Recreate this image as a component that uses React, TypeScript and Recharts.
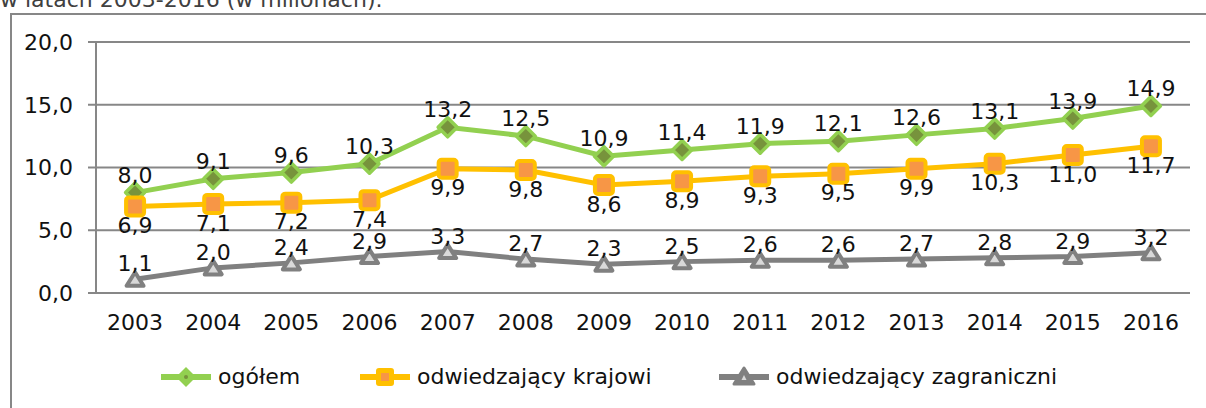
import React from "react"
import {
  LineChart,
  Line,
  XAxis,
  YAxis,
  CartesianGrid,
  LabelList,
  Legend,
} from "recharts"

const years = ["2003", "2004", "2005", "2006", "2007", "2008", "2009", "2010", "2011", "2012", "2013", "2014", "2015", "2016"]
const ogolem = [8.0, 9.1, 9.6, 10.3, 13.2, 12.5, 10.9, 11.4, 11.9, 12.1, 12.6, 13.1, 13.9, 14.9]
const krajowi = [6.9, 7.1, 7.2, 7.4, 9.9, 9.8, 8.6, 8.9, 9.3, 9.5, 9.9, 10.3, 11.0, 11.7]
const zagraniczni = [1.1, 2.0, 2.4, 2.9, 3.3, 2.7, 2.3, 2.5, 2.6, 2.6, 2.7, 2.8, 2.9, 3.2]
const yTicks = [0, 5, 10, 15, 20]
const boundaryTicks = [0, 1, 2, 3, 4, 5, 6, 7, 8, 9, 10, 11, 12, 13, 14]
const seriesOrder = ["ogolem", "krajowi", "zagraniczni"]

const data = years.map((year, i) => ({
  idx: i,
  year,
  ogolem: ogolem[i],
  krajowi: krajowi[i],
  zagraniczni: zagraniczni[i],
}))

const FONT = '"DejaVu Sans", sans-serif'
const FS = 22
const AXIS = "#878787"
const GREEN = "#92D050"
const GREEN_DARK = "#77933C"
const YELLOW = "#FFC000"
const ORANGE = "#F79646"
const GREY = "#808080"
const GREY_LIGHT = "#D9D9D9"

const fmt = (v: any) => Number(v).toFixed(1).replace(".", ",")

function Diamond({ cx, cy }: any) {
  if (cx == null || cy == null) return null
  const r = 9.5
  return (
    <polygon
      points={`${cx},${cy - r} ${cx + r},${cy} ${cx},${cy + r} ${cx - r},${cy}`}
      fill={GREEN_DARK}
      stroke={GREEN}
      strokeWidth={3.5}
      strokeLinejoin="round"
    />
  )
}

function Square({ cx, cy }: any) {
  if (cx == null || cy == null) return null
  return (
    <rect x={cx - 9} y={cy - 9} width={18} height={18} rx={3} fill={ORANGE} stroke={YELLOW} strokeWidth={4} />
  )
}

function Triangle({ cx, cy }: any) {
  if (cx == null || cy == null) return null
  return (
    <polygon
      points={`${cx},${cy - 7} ${cx + 8.5},${cy + 6.5} ${cx - 8.5},${cy + 6.5}`}
      fill={GREY_LIGHT}
      stroke={GREY}
      strokeWidth={4}
      strokeLinejoin="round"
    />
  )
}

function LegendIcon({ kind }: { kind: string }) {
  return (
    <svg width={50} height={24}>
      <line x1={0} y1={12} x2={50} y2={12} stroke={kind === "ogolem" ? GREEN : kind === "krajowi" ? YELLOW : GREY} strokeWidth={6} />
      {kind === "ogolem" && (
        <>
          <polygon points="25,2 35,12 25,22 15,12" fill={GREEN} />
          <circle cx={25} cy={12} r={2} fill={GREEN_DARK} />
        </>
      )}
      {kind === "krajowi" && (
        <>
          <rect x={16} y={3} width={18} height={18} rx={3} fill={YELLOW} />
          <rect x={21} y={8} width={8} height={8} fill={ORANGE} />
        </>
      )}
      {kind === "zagraniczni" && (
        <>
          <polygon points="25,3 35,19 15,19" fill={GREY} stroke={GREY} strokeWidth={3} strokeLinejoin="round" />
          <polygon points="25,10 27.5,15 22.5,15" fill={GREY_LIGHT} />
        </>
      )}
    </svg>
  )
}

const legendLeft: Record<string, number> = { ogolem: 161, krajowi: 360, zagraniczni: 719 }

function LegendContent({ payload }: any) {
  const items = [...(payload || [])].sort(
    (a: any, b: any) => seriesOrder.indexOf(a.dataKey) - seriesOrder.indexOf(b.dataKey)
  )
  return (
    <div style={{ position: "relative", height: 28, fontFamily: FONT, fontSize: FS, color: "#111" }}>
      {items.map((p: any) => (
        <div
          key={p.dataKey}
          style={{ position: "absolute", left: legendLeft[p.dataKey], top: 0, display: "flex", alignItems: "center", gap: 7, whiteSpace: "nowrap" }}
        >
          <LegendIcon kind={p.dataKey} />
          <span>{p.value}</span>
        </div>
      ))}
    </div>
  )
}

export default function App() {
  return (
    <div style={{ position: "absolute", left: 0, top: 0, width: 1206, height: 408, overflow: "hidden", background: "#fff" }}>
      <div
        style={{ position: "absolute", left: 0, top: -12, fontFamily: FONT, fontSize: FS, lineHeight: "24px", color: "#404040", whiteSpace: "nowrap" }}
      >
        w latach 2003-2016 (w milionach).
      </div>
      <div
        style={{ position: "absolute", left: 10, top: 13, width: 1300, height: 500, border: `2px solid ${AXIS}`, boxSizing: "border-box" }}
      />
      <div style={{ position: "absolute", left: 0, top: 0 }}>
        <LineChart width={1206} height={408} data={data} margin={{ top: 42, right: 16, left: 0, bottom: 75 }}>
          <CartesianGrid xAxisId="cat" vertical={false} stroke={AXIS} strokeWidth={2} />
          <XAxis
            xAxisId="grid"
            dataKey="idx"
            type="number"
            domain={[0, 14]}
            ticks={boundaryTicks}
            allowDataOverflow
            height={0}
            tick={false}
            tickSize={7}
            tickLine={{ stroke: AXIS, strokeWidth: 2 }}
            axisLine={{ stroke: AXIS, strokeWidth: 2 }}
          />
          <XAxis
            xAxisId="cat"
            dataKey="year"
            scale="band"
            height={40}
            axisLine={false}
            tickLine={false}
            tickSize={0}
            tickMargin={21}
            interval={0}
            tick={{ fill: "#111", fontSize: FS, fontFamily: FONT }}
          />
          <YAxis
            domain={[0, 20]}
            ticks={yTicks}
            width={96}
            tickFormatter={fmt}
            tickSize={8}
            tickMargin={15}
            tickLine={{ stroke: AXIS, strokeWidth: 2 }}
            axisLine={{ stroke: AXIS, strokeWidth: 2 }}
            tick={{ fill: "#111", fontSize: FS, fontFamily: FONT }}
          />
          <Legend
            layout="horizontal"
            verticalAlign="middle"
            content={<LegendContent />}
            wrapperStyle={{ position: "absolute", left: 0, top: 364, width: 1206, height: 28 }}
          />
          <Line
            xAxisId="cat"
            dataKey="ogolem"
            name="ogółem"
            stroke={GREEN}
            strokeWidth={5}
            dot={<Diamond />}
            activeDot={false}
            isAnimationActive={false}
          >
            <LabelList dataKey="ogolem" position="top" offset={10} formatter={fmt} fill="#111" fontSize={FS} fontFamily={FONT} />
          </Line>
          <Line
            xAxisId="cat"
            dataKey="krajowi"
            name="odwiedzający krajowi"
            stroke={YELLOW}
            strokeWidth={5}
            dot={<Square />}
            activeDot={false}
            isAnimationActive={false}
          >
            <LabelList dataKey="krajowi" position="bottom" offset={11} formatter={fmt} fill="#111" fontSize={FS} fontFamily={FONT} />
          </Line>
          <Line
            xAxisId="cat"
            dataKey="zagraniczni"
            name="odwiedzający zagraniczni"
            stroke={GREY}
            strokeWidth={5}
            dot={<Triangle />}
            activeDot={false}
            isAnimationActive={false}
          >
            <LabelList dataKey="zagraniczni" position="top" offset={8} formatter={fmt} fill="#111" fontSize={FS} fontFamily={FONT} />
          </Line>
        </LineChart>
      </div>
    </div>
  )
}
